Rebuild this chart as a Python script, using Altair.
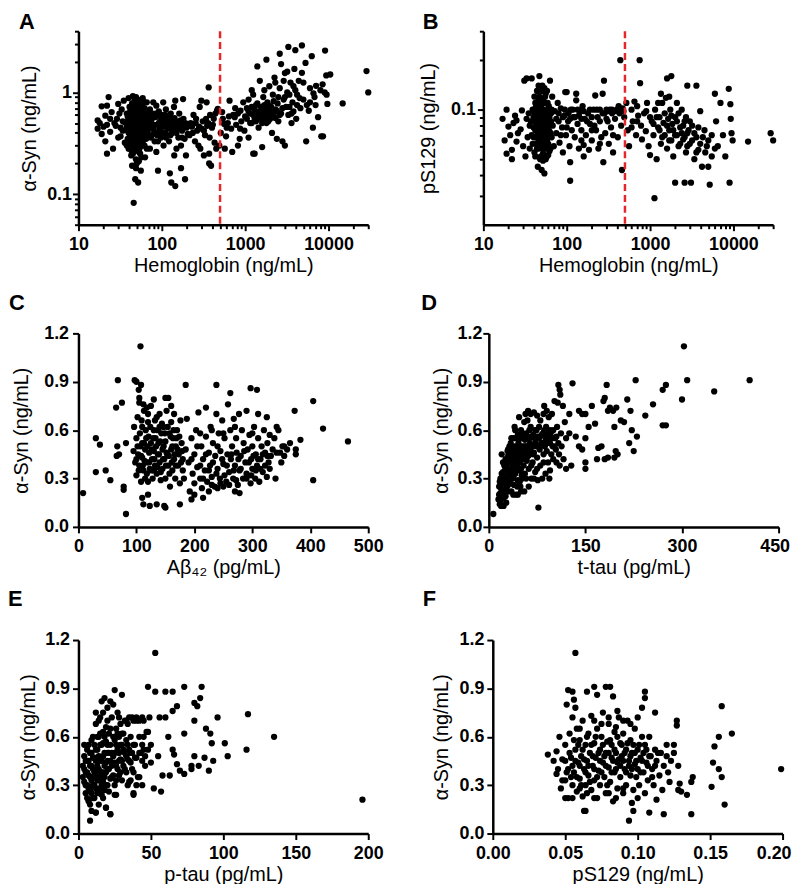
import altair as alt
import pandas as pd

FONT = "Liberation Sans, Arial, DejaVu Sans, sans-serif"
RED = "#e5262b"

# ---------------- Panel A: Hemoglobin (ng/mL) vs alpha-Syn (ng/mL) ----------------
A_MAIN = [
 (17,0.44),(17,0.53),(18,0.5),(19,0.73),(19,0.39),(20,0.46),(21,0.59),(21,0.33),(22,0.74),(22,0.25),
 (22,0.48),(23,0.9),(24,0.41),(24,0.55),(25,0.64),(26,0.28),(27,0.5),(28,0.47),(29,0.55),(30,0.77),
 (30,0.36),(31,0.62),(32,0.37),(32,0.45),(33,0.68),(34,0.52),(35,0.83),(36,0.51),(36,0.32),(34,0.42),
 (38,0.62),(38,0.45),(39,0.35),(40,0.88),(40,0.55),(40,0.28),(41,0.42),(41,0.72),(42,0.5),(42,0.33),
 (43,0.6),(43,0.24),(44,0.47),(44,0.78),(44,0.38),(45,0.92),(45,0.55),(45,0.3),(45,0.25),(46,0.43),
 (46,0.66),(46,0.36),(47,0.5),(47,0.82),(47,0.27),(47,0.4),(48,0.58),(48,0.34),(48,0.45),(48,0.7),
 (49,0.9),(49,0.52),(49,0.31),(49,0.22),(50,0.62),(50,0.42),(50,0.37),(50,0.48),(50,0.75),(51,0.28),
 (51,0.55),(51,0.85),(51,0.44),(52,0.33),(52,0.6),(52,0.5),(52,0.39),(53,0.68),(53,0.46),(53,0.26),
 (54,0.8),(54,0.41),(54,0.53),(55,0.35),(55,0.58),(55,0.3),(56,0.47),(56,0.72),(57,0.42),(57,0.62),
 (57,0.23),(58,0.52),(58,0.36),(59,0.88),(59,0.45),(60,0.6),(60,0.3),(61,0.5),(62,0.4),(62,0.7),
 (63,0.55),(63,0.23),(64,0.46),(65,0.35),(65,0.62),(66,0.28),(66,0.8),
 (46,0.082),(48,0.14),(52,0.13),(49,0.18),(50,0.2),(53,0.21),(44,0.19),(56,0.17),
 (68,0.55),(70,0.45),(72,0.28),(72,0.68),(75,0.5),(76,0.38),(78,0.62),(79,0.8),(80,0.43),(82,0.33),
 (84,0.57),(86,0.74),(86,0.26),(88,0.48),(90,0.33),(90,0.17),(92,0.65),(95,0.42),(96,0.52),(98,0.36),
 (100,0.6),(102,0.46),(104,0.8),(105,0.3),(108,0.55),(110,0.4),(112,0.68),(114,0.51),(115,0.38),(118,0.45),
 (120,0.58),(122,0.33),(125,0.46),(125,0.16),(128,0.62),(130,0.55),(130,0.13),(133,0.4),(136,0.5),(140,0.72),
 (141,0.24),(145,0.83),(145,0.12),(148,0.44),(150,0.28),(152,0.52),(158,0.36),(162,0.62),(165,0.49),(170,0.3),
 (170,0.18),(175,0.42),(180,0.86),(182,0.55),(188,0.35),(190,0.14),(195,0.24),(198,0.45),
 (205,0.39),(215,0.38),(222,0.5),(230,0.46),(240,0.6),(250,0.33),(258,0.55),(265,0.42),(275,0.3),(285,0.72),
 (290,0.28),(298,0.83),(300,0.44),(310,0.52),(320,0.24),(330,0.38),(340,0.55),(345,0.8),(350,0.47),(365,1.12),
 (370,0.25),(370,0.2),(375,0.36),(380,0.6),(390,0.19),(400,0.45),(420,0.55),(430,0.32),(450,0.28),(460,0.66),
 (470,0.69),(490,0.3),(510,0.4),(530,0.64),(560,0.49),(570,0.28),(590,0.37),(620,0.5),(650,0.83),(680,0.44),
 (700,0.26),(720,0.6),(750,0.57),(780,0.48),(820,0.3),(860,0.35),(880,0.66),(900,0.52),
 (950,0.8),(980,0.42),(1000,0.58),(1050,0.7),(1100,0.36),(1150,0.62),(1200,0.5),(1200,1.05),(1250,0.25),(1300,0.55),
 (1300,0.25),(1350,0.75),(1400,0.6),(1400,1.8),(1450,0.45),(1500,0.65),(1500,1.3),(1550,0.55),(1600,0.7),(1600,0.29),
 (1650,0.9),(1700,0.58),(1750,0.62),(1800,2.1),(1800,0.5),(1850,0.8),(1900,0.66),(1950,1.15),(2000,0.55),(2050,0.72),
 (2100,0.4),(2150,0.95),(2200,0.6),(2250,1.4),(2300,0.68),(2400,0.35),(2450,0.78),(2500,0.52),(2600,2.4),(2600,1.1),
 (2700,1.9),(2700,0.62),(2800,0.33),(2900,0.85),(3000,0.3),(3000,1.55),(3100,0.72),(3200,1.6),(3300,2.8),(3300,0.6),
 (3400,0.95),(3500,1.25),(3600,0.5),(3700,0.8),(3800,0.65),(4000,2.6),(4000,1.05),(4100,0.55),(4200,0.75),(4400,1.3),
 (4600,0.7),(4800,2.9),(4800,1.56),(5000,0.85),(5300,1.95),(5400,0.33),(5800,0.66),(6000,1.1),(6300,2.27),(6600,0.98),
 (6800,0.9),(7100,1.16),(6500,0.45),(7500,0.57),(8200,0.37),(8600,0.37),(8500,1.2),(9000,1.0),(9100,2.58),(9400,1.47),
 (9700,0.77),(10500,1.5),(14800,0.78),(28600,1.62),(30000,1.0),
]
A_DENSE = [
 (40,0.4),(40,0.62),(41,0.3),(41,0.52),(42,0.44),(42,0.66),(43,0.37),(43,0.52),(44,0.29),(44,0.57),
 (45,0.41),(45,0.48),(45,0.7),(46,0.27),(46,0.52),(46,0.59),(47,0.33),(47,0.46),(47,0.62),(48,0.38),
 (48,0.5),(48,0.28),(49,0.42),(49,0.6),(49,0.68),(50,0.3),(50,0.54),(50,0.33),(50,0.66),(51,0.36),
 (51,0.47),(51,0.65),(52,0.42),(52,0.29),(52,0.72),(53,0.38),(53,0.55),(53,0.6),(54,0.33),(54,0.47),
 (54,0.64),(55,0.43),(55,0.5),(55,0.25),(56,0.39),(56,0.55),(56,0.3),(57,0.48),(57,0.35),(57,0.68),
 (58,0.44),(58,0.58),(59,0.32),(59,0.52),(60,0.4),(60,0.68),(61,0.36),(61,0.56),(62,0.48),(62,0.3),
 (43,0.44),(44,0.66),(46,0.75),(48,0.8),(50,0.86),(52,0.78),(54,0.7),(58,0.76),(60,0.82),(64,0.55),
 (37,0.5),(38,0.3),(39,0.58),(39,0.42),(40,0.47),(41,0.6),(42,0.38),(43,0.27),(44,0.52),(45,0.35),
 (46,0.47),(47,0.55),(47,0.3),(48,0.42),(49,0.47),(49,0.36),(50,0.58),(50,0.45),(51,0.4),(51,0.6),
 (52,0.55),(52,0.35),(53,0.5),(53,0.42),(54,0.58),(54,0.28),(55,0.46),(55,0.65),(56,0.52),(57,0.38),
 (58,0.48),(59,0.4),(60,0.5),(61,0.44),(63,0.38),(64,0.62),(66,0.45),(67,0.52),(69,0.38),(70,0.5),
 (68,0.42),(70,0.6),(74,0.36),(76,0.55),(80,0.48),(83,0.4),(85,0.62),(88,0.38),(92,0.5),(94,0.44),
 (97,0.58),(100,0.4),(103,0.52),(106,0.46),(110,0.6),(112,0.36),(116,0.55),(120,0.44),(124,0.52),(127,0.38),
 (132,0.47),(138,0.42),(142,0.56),(150,0.4),(155,0.48),(160,0.44),(168,0.53),(175,0.36),(185,0.46),(192,0.5),
 (210,0.47),(235,0.4),(255,0.5),(280,0.46),(320,0.42),(360,0.5),(410,0.48),(440,0.62),(540,0.55),(600,0.45),
 (640,0.58),(760,0.7),(820,0.62),(870,0.44),
 (1050,0.55),(1100,0.65),(1150,0.5),(1200,0.72),(1250,0.6),(1300,0.68),(1350,0.52),(1400,0.78),(1450,0.62),(1500,0.56),
 (1550,0.72),(1600,0.5),(1650,0.62),(1700,0.75),(1750,0.55),(1800,0.68),(1850,0.6),(1900,0.52),(1950,0.74),(2000,0.64),
 (2100,0.58),(2200,0.82),(2300,0.56),(2400,0.66),(2500,0.9),(2600,0.6),(2800,0.7),(3000,0.9),(3200,1.0),(3400,0.72),
 (3600,0.62),(3800,1.15),(4200,0.95),(4500,0.88),(5000,1.25),(5500,0.75),(6000,0.8),(7000,0.75),(8000,1.05),(9500,0.95),
 (2300,1.25),(1700,1.05),(2900,1.3),(3900,1.7),(1250,0.95),(1100,0.85),
]

# ---------------- Panel B: Hemoglobin (ng/mL) vs pS129 (ng/mL) ----------------
B_MAIN = [
 (17,0.088),(18,0.065),(19,0.054),(19,0.1),(20,0.079),(21,0.07),(22,0.057),(22,0.05),(23,0.083),(24,0.092),
 (25,0.086),(25,0.064),(26,0.072),(28,0.076),(29,0.099),(30,0.06),(31,0.15),(32,0.052),(33,0.155),(33,0.088),
 (34,0.068),(35,0.095),(36,0.08),(36,0.058),
 (37,0.085),(38,0.155),(38,0.07),(39,0.1),(39,0.062),(40,0.09),(40,0.078),(41,0.12),(41,0.055),(42,0.095),
 (42,0.068),(43,0.083),(43,0.105),(44,0.074),(44,0.058),(45,0.13),(45,0.09),(45,0.045),(46,0.08),(46,0.065),
 (47,0.16),(47,0.1),(47,0.072),(48,0.088),(48,0.06),(48,0.115),(49,0.078),(49,0.052),(50,0.095),(50,0.07),
 (50,0.043),(51,0.083),(51,0.14),(52,0.062),(52,0.1),(52,0.049),(53,0.075),(53,0.09),(54,0.041),(54,0.11),
 (55,0.068),(55,0.085),(56,0.058),(56,0.125),(57,0.078),(58,0.052),(58,0.095),(59,0.07),(60,0.088),(60,0.062),
 (61,0.105),(62,0.074),(63,0.15),(63,0.082),(64,0.058),(65,0.095),(66,0.068),(67,0.12),(68,0.08),(70,0.06),
 (72,0.098),(75,0.072),(78,0.11),(80,0.085),(82,0.063),(85,0.102),(88,0.078),(90,0.055),(94,0.092),(96,0.128),
 (98,0.07),(100,0.128),(104,0.085),(108,0.06),(110,0.037),(110,0.048),(112,0.1),(115,0.075),(120,0.09),(125,0.068),
 (130,0.125),(130,0.114),(135,0.082),(140,0.058),(145,0.098),(150,0.075),(155,0.105),(160,0.052),(160,0.061),(165,0.088),
 (170,0.07),(180,0.095),(185,0.057),(190,0.082),(200,0.065),(210,0.1),(220,0.122),(225,0.075),(235,0.09),(240,0.058),
 (250,0.1),(260,0.068),(270,0.125),(275,0.048),(280,0.15),(285,0.095),(290,0.072),(300,0.1),(310,0.085),(320,0.062),
 (330,0.1),(340,0.078),(350,0.095),(360,0.055),(380,0.088),(400,0.1),(410,0.068),(430,0.095),(440,0.2),(450,0.08),
 (460,0.043),(470,0.102),(490,0.09),
 (520,0.11),(540,0.075),(560,0.06),(600,0.1),(620,0.085),(650,0.112),(680,0.07),(700,0.105),(720,0.092),(750,0.2),
 (760,0.145),(780,0.08),(800,0.066),(850,0.095),(890,0.074),(920,0.11),(960,0.06),(1000,0.053),(1050,0.085),(1100,0.07),
 (1130,0.029),(1150,0.1),(1200,0.05),(1250,0.078),(1300,0.09),(1350,0.062),(1400,0.11),(1450,0.083),(1500,0.07),(1550,0.118),
 (1600,0.155),(1600,0.058),(1650,0.088),(1700,0.075),(1750,0.1),(1800,0.16),(1800,0.065),(1850,0.082),(1900,0.052),(2000,0.036),
 (2000,0.09),(2100,0.07),(2200,0.06),(2300,0.078),(2400,0.1),(2500,0.066),(2600,0.036),(2600,0.085),(2700,0.055),(2800,0.14),
 (2800,0.072),(3000,0.062),(3100,0.036),(3200,0.08),(3400,0.05),(3600,0.14),(3600,0.068),(3800,0.057),(4000,0.098),(4200,0.045),
 (4500,0.075),(4800,0.06),(5000,0.045),(5200,0.035),(5500,0.052),(6000,0.125),(6200,0.085),(6500,0.06),(7000,0.11),(7500,0.07),
 (8000,0.052),(8800,0.134),(9000,0.036),(9200,0.108),(9300,0.088),(9500,0.072),(9800,0.065),(15000,0.064),(28000,0.072),(30000,0.065),
]
B_DENSE = [
 (40,0.1),(40,0.068),(41,0.085),(41,0.095),(42,0.075),(42,0.11),(43,0.062),(43,0.092),(44,0.082),(44,0.1),
 (45,0.07),(45,0.078),(45,0.112),(46,0.088),(46,0.095),(46,0.058),(47,0.082),(47,0.065),(47,0.12),(48,0.075),
 (48,0.098),(48,0.068),(49,0.09),(49,0.105),(49,0.064),(50,0.08),(50,0.112),(50,0.058),(50,0.088),(51,0.072),
 (51,0.095),(51,0.062),(52,0.085),(52,0.078),(52,0.115),(53,0.068),(53,0.1),(53,0.058),(54,0.088),(54,0.075),
 (55,0.095),(55,0.062),(55,0.12),(56,0.08),(56,0.07),(57,0.09),(57,0.1),(58,0.072),(58,0.065),(59,0.085),
 (59,0.11),(60,0.078),(60,0.098),(61,0.068),(62,0.09),(62,0.056),(63,0.1),(64,0.072),(65,0.085),(66,0.1),
 (44,0.13),(46,0.14),(50,0.13),(54,0.135),(58,0.13),(48,0.05),(52,0.054),(56,0.05),(60,0.053),(42,0.052),
 (75,0.088),(80,0.095),(85,0.07),(90,0.09),(95,0.1),(100,0.078),(105,0.095),(110,0.088),(118,0.1),(125,0.09),
 (135,0.1),(140,0.092),(150,0.088),(160,0.098),(175,0.085),(190,0.1),(200,0.09),(215,0.08),(230,0.1),(250,0.085),
 (270,0.095),(300,0.088),(320,0.098),(350,0.1),(380,0.098),(420,0.105),(450,0.1),(480,0.098),(360,0.07),(250,0.062),
 (150,0.065),(200,0.075),
 (1100,0.082),(1200,0.09),(1300,0.075),(1400,0.068),(1500,0.095),(1600,0.08),(1700,0.065),(1800,0.092),(1900,0.075),(2000,0.07),
 (2100,0.085),(2200,0.095),(2300,0.062),(2400,0.072),(2500,0.08),(2600,0.068),(2700,0.09),(2800,0.06),(2900,0.075),(3000,0.085),
 (3200,0.065),(3400,0.072),(3600,0.055),(3800,0.078),(4000,0.062),(4300,0.068),(4600,0.055),(5000,0.065),(5500,0.07),(6000,0.058),
 (900,0.098),(1000,0.09),(700,0.085),(600,0.078),(1250,0.11),(1700,0.12),(2100,0.11),(1350,0.125),
]

# ---------------- Panel C: Abeta42 (pg/mL) vs alpha-Syn (ng/mL) ----------------
C_MAIN = [
 (8,0.21),(30,0.34),(30,0.55),(37,0.51),(47,0.35),(55,0.29),(66,0.44),(67,0.5),(68,0.91),(65,0.74),
 (70,0.45),(75,0.77),(78,0.25),(78,0.23),(82,0.08),(82,0.52),(107,1.12),(97,0.91),(108,0.88),(185,0.88),
 (238,0.88),(297,0.86),(308,0.85),(262,0.83),(405,0.78),(422,0.61),(465,0.53),(405,0.29),(373,0.72),(383,0.54),
 (375,0.45),(375,0.48),(365,0.52),(355,0.5),(350,0.4),(340,0.3),(345,0.6),(342,0.62),(325,0.68),(310,0.7),
 (110,0.18),(112,0.14),(120,0.2),(123,0.13),(135,0.14),(148,0.13),(150,0.12),(175,0.14),(195,0.17),(200,0.2),
 (215,0.18),(225,0.22),(270,0.22),(278,0.21),(240,0.24),(250,0.25),
 (95,0.47),(96,0.62),(98,0.4),(100,0.55),(100,0.32),(102,0.68),(103,0.45),(105,0.38),(105,0.8),(107,0.5),
 (108,0.28),(110,0.62),(110,0.43),(112,0.35),(113,0.72),(115,0.48),(115,0.3),(117,0.55),(118,0.4),(120,0.65),
 (120,0.28),(122,0.46),(123,0.36),(125,0.75),(125,0.52),(127,0.42),(128,0.3),(130,0.6),(130,0.47),(132,0.38),
 (133,0.55),(135,0.68),(135,0.33),(137,0.45),(138,0.52),(140,0.4),(140,0.7),(142,0.29),(143,0.58),(145,0.48),
 (145,0.36),(147,0.62),(148,0.42),(150,0.53),(150,0.3),(152,0.72),(153,0.45),(155,0.38),(155,0.8),(157,0.58),
 (158,0.25),(160,0.48),(160,0.65),(162,0.35),(163,0.55),(165,0.42),(165,0.7),(167,0.3),(168,0.5),(170,0.6),
 (172,0.38),(173,0.45),(175,0.27),(176,0.66),(178,0.52),(180,0.35),(180,0.42),
 (100,0.9),(104,0.85),(105,0.77),(112,0.76),(118,0.74),(130,0.79),(150,0.8),(160,0.75),
 (182,0.3),(185,0.48),(187,0.67),(190,0.4),(192,0.22),(195,0.55),(197,0.33),(200,0.45),(200,0.27),(203,0.6),
 (205,0.37),(207,0.71),(210,0.3),(212,0.5),(213,0.24),(215,0.42),(218,0.35),(220,0.56),(220,0.74),(222,0.28),
 (225,0.46),(227,0.38),(228,0.62),(230,0.31),(232,0.52),(235,0.25),(236,0.44),(238,0.7),(240,0.36),(242,0.58),
 (244,0.3),(245,0.47),(248,0.66),(250,0.39),(252,0.55),(255,0.28),(257,0.45),(258,0.76),(260,0.34),(262,0.6),
 (263,0.42),(265,0.5),(267,0.3),(268,0.67),(270,0.38),(272,0.55),(273,0.46),(275,0.26),(277,0.7),(278,0.35),
 (280,0.44),(282,0.6),(284,0.3),(285,0.52),(288,0.4),(290,0.72),(290,0.33),(292,0.48),(295,0.57),(297,0.27),
 (298,0.42),(300,0.36),(300,0.5),(303,0.62),(305,0.3),(306,0.45),(308,0.38),(310,0.55),(312,0.28),(314,0.42),
 (316,0.5),(318,0.34),(320,0.6),(322,0.46),(325,0.31),(326,0.52),(328,0.4),(330,0.57),(332,0.44),(335,0.48),
 (338,0.55),(342,0.46),(348,0.46),(352,0.5),(355,0.44),(360,0.48),
]
C_DENSE = [
 (100,0.42),(102,0.5),(104,0.35),(106,0.58),(108,0.44),(109,0.66),(111,0.38),(113,0.52),(114,0.41),(116,0.6),
 (118,0.33),(119,0.5),(121,0.56),(122,0.4),(124,0.62),(126,0.35),(127,0.48),(129,0.55),(131,0.42),(132,0.66),
 (134,0.5),(136,0.37),(137,0.6),(139,0.45),(141,0.53),(142,0.34),(144,0.64),(146,0.42),(147,0.5),(149,0.58),
 (151,0.38),(152,0.46),(154,0.62),(156,0.44),(157,0.33),(159,0.56),(161,0.4),(162,0.5),(164,0.6),(166,0.45),
 (168,0.38),(169,0.55),(171,0.48),(174,0.56),(177,0.4),(179,0.47),(120,0.7),(140,0.62),(110,0.52),(130,0.35),
 (195,0.42),(205,0.5),(210,0.38),(215,0.3),(220,0.45),(225,0.35),(230,0.26),(232,0.4),(238,0.33),(240,0.5),
 (245,0.27),(248,0.42),(252,0.32),(256,0.38),(260,0.26),(264,0.45),(268,0.35),(272,0.29),(276,0.42),(280,0.36),
 (286,0.47),(290,0.3),(294,0.4),(298,0.32),(302,0.44),(306,0.35),(310,0.42),(314,0.36),(318,0.45),(322,0.38),
 (326,0.44),(330,0.36),(210,0.58),(230,0.6),(250,0.58),(270,0.62),(300,0.58),
]

# ---------------- Panel D: t-tau (pg/mL) vs alpha-Syn (ng/mL) ----------------
D_MAIN = [
 (7,0.08),(15,0.17),(16,0.25),(17,0.14),(18,0.3),(18,0.21),(19,0.13),(20,0.45),(20,0.27),(21,0.18),
 (22,0.34),(22,0.23),(23,0.13),(24,0.38),(24,0.28),(25,0.2),(26,0.31),(26,0.42),(27,0.15),(28,0.35),
 (28,0.25),(29,0.47),(30,0.3),(30,0.22),(31,0.4),
 (32,0.33),(32,0.5),(33,0.27),(34,0.43),(35,0.36),(35,0.22),(36,0.48),(37,0.3),(38,0.55),(38,0.39),
 (39,0.26),(40,0.45),(40,0.34),(41,0.6),(42,0.41),(42,0.2),(43,0.5),(44,0.37),(45,0.29),(45,0.57),
 (46,0.44),(47,0.68),(48,0.35),(48,0.5),(49,0.25),(50,0.42),(50,0.6),(51,0.32),(52,0.47),(53,0.55),
 (54,0.38),(55,0.22),(55,0.65),(56,0.44),(57,0.5),(58,0.3),(58,0.58),(59,0.41),(60,0.48),
 (61,0.72),(62,0.36),(63,0.55),(64,0.45),(65,0.62),(66,0.3),(67,0.5),(68,0.4),(69,0.57),(70,0.71),
 (70,0.46),(72,0.34),(73,0.52),(74,0.6),(75,0.43),(76,0.29),(77,0.12),(78,0.55),(79,0.48),(80,0.66),
 (80,0.38),(82,0.52),(83,0.3),(84,0.58),(85,0.45),(86,0.75),(87,0.5),(88,0.33),(89,0.62),(90,0.47),
 (91,0.55),(92,0.4),(93,0.68),(94,0.3),(95,0.52),(96,0.58),(97,0.45),(98,0.7),(99,0.5),(100,0.6),
 (100,0.42),(102,0.78),(103,0.55),(104,0.48),(105,0.4),(106,0.62),(107,0.77),(108,0.52),(109,0.45),(110,0.38),
 (112,0.58),(113,0.5),(115,0.75),(116,0.42),(118,0.65),(120,0.55),
 (303,1.12),(308,0.91),(405,0.91),(350,0.84),(300,0.79),(275,0.88),(270,0.85),(228,0.91),(183,0.88),(130,0.89),
 (108,0.88),(110,0.85),(111,0.82),(270,0.63),(275,0.63),(255,0.76),(243,0.69),(215,0.79),(220,0.72),(222,0.6),
 (230,0.56),(225,0.47),(218,0.52),(205,0.66),(210,0.65),(198,0.74),(193,0.72),(185,0.72),(180,0.8),(178,0.78),
 (188,0.74),(195,0.62),(197,0.47),(195,0.43),(200,0.45),(185,0.43),(180,0.42),(175,0.5),(170,0.49),(168,0.42),
 (160,0.75),(155,0.62),(165,0.64),(150,0.7),(140,0.72),(145,0.7),(150,0.55),(150,0.4),(150,0.36),(145,0.48),
 (140,0.5),(135,0.56),(125,0.58),(128,0.38),(120,0.36),(125,0.7),
]
D_DENSE = [
 (16,0.2),(17,0.28),(18,0.16),(19,0.24),(20,0.33),(20,0.19),(21,0.28),(22,0.4),(23,0.3),(23,0.18),
 (24,0.22),(25,0.35),(25,0.27),(26,0.19),(27,0.38),(27,0.3),(28,0.42),(29,0.28),(29,0.36),(30,0.26),
 (30,0.44),(31,0.34),(32,0.28),(32,0.4),(33,0.45),(33,0.35),(34,0.3),(34,0.52),(35,0.42),(36,0.33),
 (36,0.4),(37,0.46),(37,0.38),(38,0.31),(39,0.42),(39,0.5),(40,0.38),(41,0.47),(41,0.33),(42,0.55),
 (43,0.44),(43,0.38),(44,0.48),(45,0.42),(46,0.36),(46,0.52),(47,0.45),(48,0.4),(49,0.55),(49,0.46),
 (50,0.36),(51,0.5),(52,0.42),(52,0.58),(53,0.46),(54,0.5),(55,0.42),(56,0.54),(57,0.46),(58,0.5),
 (60,0.55),(61,0.44),(62,0.5),(63,0.6),(64,0.52),(65,0.47),(66,0.56),(68,0.5),(69,0.45),(71,0.55),
 (72,0.6),(74,0.5),(76,0.56),(78,0.62),(80,0.5),(82,0.57),(84,0.52),(86,0.6),(88,0.55),(90,0.52),
 (92,0.58),(95,0.6),(98,0.55),(102,0.5),(105,0.56),(60,0.66),(57,0.7),(65,0.7),(75,0.69),(85,0.7),
 (90,0.72),(30,0.48),(35,0.55),(40,0.62),(44,0.25),(48,0.28),(52,0.3),(56,0.33),(62,0.25),(66,0.38),
 (70,0.3),(75,0.36),(85,0.4),(95,0.35),(38,0.2),(45,0.2),(50,0.22),
]

# ---------------- Panel E: p-tau (pg/mL) vs alpha-Syn (ng/mL) ----------------
E_MAIN = [
 (3,0.42),(4,0.32),(4,0.48),(5,0.25),(5,0.38),(6,0.45),(6,0.3),(7,0.2),(7,0.55),(7,0.36),
 (8,0.08),(8,0.27),(8,0.42),(9,0.14),(9,0.5),(9,0.33),(10,0.22),(10,0.6),(10,0.4),
 (11,0.3),(11,0.47),(12,0.13),(12,0.68),(12,0.36),(13,0.25),(13,0.52),(13,0.42),(14,0.18),(14,0.6),
 (14,0.33),(15,0.45),(15,0.72),(15,0.28),(16,0.38),(16,0.55),(16,0.82),(17,0.22),(17,0.48),(17,0.63),
 (18,0.35),(18,0.42),(18,0.84),(19,0.16),(19,0.57),(19,0.3),(20,0.5),(20,0.7),(20,0.4),
 (21,0.26),(21,0.62),(22,0.12),(22,0.45),(22,0.55),(23,0.35),(23,0.72),(24,0.48),(24,0.8),(25,0.3),
 (25,0.58),(25,0.89),(26,0.24),(26,0.42),(26,0.65),(27,0.52),(27,0.75),(28,0.36),(28,0.6),(29,0.46),
 (29,0.68),(30,0.86),(30,0.33),(30,0.55),(31,0.42),(31,0.62),(32,0.5),(32,0.7),(33,0.38),(33,0.58),
 (34,0.46),(34,0.68),(35,0.52),(35,0.32),(36,0.6),(36,0.44),(37,0.72),(37,0.5),(38,0.25),(38,0.38),
 (39,0.55),(40,0.47),(40,0.7),(41,0.35),(42,0.6),(43,0.5),(44,0.3),(45,0.52),(46,0.42),(47,0.63),
 (196,0.21),(135,0.6),(117,0.74),(116,0.52),(103,0.48),(101,0.56),(96,0.72),(93,0.45),(90,0.39),(91,0.62),
 (92,0.56),(88,0.65),(87,0.47),(85,0.91),(84,0.84),(82,0.79),(80,0.81),(80,0.7),(83,0.42),(80,0.48),
 (78,0.42),(78,0.4),(73,0.91),(73,0.62),(73,0.37),(70,0.39),(68,0.79),(68,0.43),(65,0.88),(65,0.76),
 (65,0.52),(66,0.49),(60,0.88),(60,0.72),(62,0.6),(63,0.36),(58,0.36),(57,0.26),(55,0.48),(56,0.72),
 (53,1.12),(53,0.88),(52,0.28),(48,0.91),(49,0.72),(50,0.55),(50,0.44),(48,0.63),(45,0.7),(45,0.6),
 (42,0.35),(44,0.45),(40,0.72),(38,0.55),(38,0.24),(25,0.24),(22,0.12),(19,0.16),(12,0.13),
]
E_DENSE = [
 (3,0.35),(4,0.4),(4,0.55),(5,0.3),(5,0.45),(6,0.38),(6,0.52),(6,0.22),(7,0.28),(7,0.45),
 (8,0.35),(8,0.5),(8,0.18),(9,0.25),(9,0.42),(9,0.58),(10,0.3),(10,0.47),(10,0.35),(11,0.38),
 (11,0.55),(11,0.22),(12,0.28),(12,0.45),(12,0.52),(13,0.33),(13,0.6),(13,0.38),(14,0.4),(14,0.48),
 (14,0.26),(15,0.35),(15,0.55),(15,0.62),(16,0.3),(16,0.45),(16,0.24),(17,0.38),(17,0.56),(17,0.32),
 (18,0.5),(18,0.27),(18,0.6),(19,0.44),(19,0.38),(19,0.66),(20,0.3),(20,0.55),(20,0.45),(21,0.4),
 (21,0.5),(22,0.34),(22,0.65),(23,0.42),(23,0.5),(24,0.36),(24,0.6),(25,0.44),(25,0.5),(26,0.33),
 (26,0.55),(27,0.4),(27,0.62),(28,0.45),(28,0.5),(29,0.38),(29,0.55),(30,0.45),(30,0.62),(31,0.52),
 (32,0.4),(33,0.48),(34,0.55),(35,0.45),(36,0.5),(37,0.4),(39,0.47),(42,0.5),(44,0.55),(46,0.48),
 (48,0.52),(34,0.3),(36,0.33),(40,0.3),(12,0.75),(14,0.7),(17,0.75),(20,0.78),(22,0.82),(28,0.72),
 (33,0.7),(35,0.72),(38,0.7),(42,0.7),(44,0.72),
]

# ---------------- Panel F: pS129 (ng/mL) vs alpha-Syn (ng/mL) ----------------
F_MAIN = [
 (0.057,1.12),(0.199,0.4),(0.165,0.62),(0.158,0.79),(0.156,0.6),(0.156,0.4),(0.158,0.35),(0.153,0.54),(0.152,0.44),(0.151,0.29),
 (0.16,0.18),(0.137,0.12),(0.138,0.35),(0.137,0.32),(0.134,0.24),(0.13,0.26),(0.128,0.27),(0.127,0.7),(0.127,0.67),(0.125,0.55),
 (0.125,0.5),(0.128,0.42),(0.129,0.31),(0.12,0.55),(0.118,0.12),(0.112,0.75),(0.113,0.21),(0.108,0.13),(0.105,0.88),(0.105,0.84),
 (0.103,0.78),(0.094,0.08),(0.097,0.14),(0.096,0.19),(0.038,0.49),(0.042,0.45),(0.044,0.51),(0.044,0.37),(0.045,0.4),(0.046,0.6),
 (0.047,0.28),(0.05,0.22),(0.048,0.33),(0.052,0.89),(0.055,0.88),(0.051,0.8),(0.056,0.83),(0.057,0.78),(0.063,0.14),(0.064,0.14),
 (0.065,0.88),(0.07,0.91),(0.072,0.86),(0.078,0.91),(0.081,0.91),(0.083,0.85),(0.086,0.76),
 (0.048,0.46),(0.05,0.33),(0.05,0.55),(0.052,0.4),(0.052,0.22),(0.053,0.62),(0.054,0.47),(0.055,0.3),(0.055,0.72),(0.056,0.38),
 (0.057,0.52),(0.058,0.26),(0.058,0.65),(0.059,0.44),(0.06,0.34),(0.06,0.58),(0.061,0.48),(0.062,0.23),(0.062,0.7),(0.063,0.4),
 (0.064,0.55),(0.064,0.3),(0.065,0.45),(0.066,0.62),(0.066,0.36),(0.067,0.5),(0.068,0.27),(0.068,0.73),(0.069,0.42),(0.07,0.56),
 (0.07,0.33),(0.071,0.47),(0.072,0.65),(0.072,0.22),(0.073,0.39),(0.074,0.52),(0.074,0.3),(0.075,0.6),(0.076,0.44),(0.076,0.75),
 (0.077,0.35),(0.078,0.5),(0.078,0.25),(0.079,0.57),(0.08,0.41),(0.08,0.68),(0.081,0.32),(0.082,0.47),(0.082,0.55),(0.083,0.2),
 (0.084,0.38),(0.084,0.63),(0.085,0.5),(0.086,0.28),(0.086,0.44),(0.087,0.72),(0.088,0.35),(0.088,0.56),(0.089,0.48),(0.09,0.25),
 (0.09,0.62),(0.091,0.4),(0.092,0.52),(0.092,0.3),(0.093,0.7),(0.094,0.45),(0.095,0.36),(0.095,0.58),(0.096,0.5),(0.097,0.27),
 (0.098,0.43),(0.098,0.65),(0.099,0.35),(0.1,0.52),(0.1,0.72),(0.101,0.3),(0.102,0.47),(0.103,0.6),(0.104,0.38),(0.105,0.25),
 (0.105,0.55),(0.106,0.44),(0.107,0.33),(0.108,0.6),(0.109,0.48),(0.11,0.4),(0.111,0.3),(0.112,0.52),(0.113,0.45),(0.115,0.36),
 (0.116,0.5),(0.117,0.27),(0.118,0.42),(0.12,0.48),(0.121,0.38),(0.122,0.32),(0.123,0.45),
]
F_DENSE = [
 (0.05,0.45),(0.051,0.38),(0.053,0.5),(0.054,0.35),(0.055,0.42),(0.056,0.58),(0.057,0.45),(0.058,0.35),(0.059,0.55),(0.06,0.42),
 (0.061,0.3),(0.062,0.52),(0.063,0.46),(0.064,0.38),(0.065,0.6),(0.066,0.42),(0.067,0.32),(0.068,0.55),(0.069,0.48),(0.07,0.4),
 (0.071,0.6),(0.072,0.35),(0.073,0.5),(0.074,0.45),(0.075,0.38),(0.076,0.55),(0.077,0.48),(0.078,0.42),(0.079,0.3),(0.08,0.5),
 (0.081,0.58),(0.082,0.38),(0.083,0.45),(0.084,0.52),(0.085,0.4),(0.086,0.6),(0.087,0.46),(0.088,0.42),(0.089,0.55),(0.09,0.45),
 (0.091,0.5),(0.092,0.38),(0.093,0.56),(0.094,0.42),(0.095,0.48),(0.096,0.4),(0.097,0.55),(0.098,0.5),(0.099,0.45),(0.1,0.4),
 (0.101,0.55),(0.102,0.38),(0.103,0.45),(0.104,0.5),(0.106,0.52),(0.107,0.42),(0.108,0.48),(0.11,0.35),(0.112,0.42),(0.114,0.5),
 (0.07,0.7),(0.075,0.68),(0.08,0.72),(0.085,0.66),(0.09,0.7),(0.095,0.68),(0.06,0.65),(0.065,0.25),(0.07,0.22),(0.08,0.25),
 (0.085,0.22),(0.09,0.28),(0.1,0.22),(0.06,0.28),(0.055,0.22),
]

HB_MAJOR = [10, 100, 1000, 10000]
HB_MINOR = [20, 30, 40, 50, 60, 70, 80, 90, 200, 300, 400, 500, 600, 700, 800, 900,
            2000, 3000, 4000, 5000, 6000, 7000, 8000, 9000, 20000, 30000]
SYN_LOG_MAJOR = [0.1, 1]
SYN_LOG_MINOR = [0.05, 0.06, 0.07, 0.08, 0.09, 0.2, 0.3, 0.4, 0.5, 0.6, 0.7, 0.8, 0.9, 2, 3, 4]
PS_LOG_MAJOR = [0.1]
PS_LOG_MINOR = [0.03, 0.04, 0.05, 0.06, 0.07, 0.08, 0.09, 0.2, 0.3]
SYN_TICKS = [0, 0.3, 0.6, 0.9, 1.2]
CUTOFF = [500]

W, H = 292, 195
LABEL_W = 25          # width of a y tick label such as "0.1" / "1.2"
XLP, XTP = 5, 2       # x-axis label / title padding (linear axes)
LOG_XTP = 2           # x-axis title padding (log axes)
X_EXT = 6 + XLP + 18  # fixed x-axis extent (tick + padding + label height)


def log_axis(title, major, minor, lp, tp, ext):
    # all ticks are 6 px long; minor ticks are dashed so only their inner part shows
    arr = "[" + ",".join(str(v) for v in major) + "]"
    test = f"indexof({arr}, datum.value) >= 0"
    return alt.Axis(
        title=title, values=sorted(major + minor),
        labelExpr=f"{test} ? '' + datum.value : ''",
        tickSize=6,
        tickDash={"condition": {"test": test, "value": []}, "value": [4, 8]},
        labelPadding=lp, titlePadding=tp, minExtent=ext, maxExtent=ext,
    )


def lin_axis(title, values, fmt, lp, tp, ext, last_shift=0):
    kw = {}
    if last_shift:
        kw["labelOffset"] = {"condition": {"test": f"datum.value == {values[-1]}", "value": last_shift}, "value": 0}
    return alt.Axis(title=title, values=values, format=fmt, tickSize=6,
                    labelPadding=lp, titlePadding=tp, minExtent=ext, maxExtent=ext, **kw)


def y_log(title, major, minor, lp, tp):
    return log_axis(title, major, minor, lp, tp, 6 + lp + LABEL_W)


def y_lin(lp, tp):
    return lin_axis("α-Syn (ng/mL)", SYN_TICKS, ".1f", lp, tp, 6 + lp + LABEL_W)


def panel(pts, xscale, yscale, xaxis, yaxis, letter, offset, dx, cutoff=False):
    data = pd.DataFrame(pts, columns=["x", "y"])
    pts_layer = alt.Chart(data).mark_circle(size=40, color="black", opacity=1).encode(
        x=alt.X("x:Q", scale=xscale, axis=xaxis),
        y=alt.Y("y:Q", scale=yscale, axis=yaxis),
    )
    layers = [pts_layer]
    if cutoff:
        rule = alt.Chart(pd.DataFrame({"x": CUTOFF})).mark_rule(
            color=RED, strokeWidth=2.5, strokeDash=[7, 4]
        ).encode(x="x:Q")
        layers.append(rule)
    return alt.layer(*layers).properties(
        width=W, height=H,
        title=alt.TitleParams(letter, anchor="start", frame="group", fontSize=22,
                              fontWeight="bold", font=FONT, color="black",
                              offset=offset, dx=dx),
    )


hb_scale = alt.Scale(type="log", domain=[10, 30000], nice=False)
syn_lin = alt.Scale(domain=[0, 1.2], nice=False)

pA = panel(A_MAIN + A_DENSE, hb_scale, alt.Scale(type="log", domain=[0.05, 4], nice=False),
           log_axis("Hemoglobin (ng/mL)", HB_MAJOR, HB_MINOR, XLP, LOG_XTP, X_EXT),
           y_log("α-Syn (ng/mL)", SYN_LOG_MAJOR, SYN_LOG_MINOR, 1, 7),
           "A", -12, -60, cutoff=True)
pB = panel(B_MAIN + B_DENSE, hb_scale, alt.Scale(type="log", domain=[0.02, 0.3], nice=False),
           log_axis("Hemoglobin (ng/mL)", HB_MAJOR, HB_MINOR, XLP, LOG_XTP, X_EXT),
           y_log("pS129 (ng/mL)", PS_LOG_MAJOR, PS_LOG_MINOR, 2, 12.5),
           "B", -12, -61, cutoff=True)
pC = panel(C_MAIN + C_DENSE, alt.Scale(domain=[0, 500], nice=False), syn_lin,
           lin_axis("Aβ₄₂ (pg/mL)", [0, 100, 200, 300, 400, 500], "d", XLP, XTP, X_EXT),
           y_lin(4, 12.5), "C", 9.5, -70)
pD = panel(D_MAIN + D_DENSE, alt.Scale(domain=[0, 450], nice=False), syn_lin,
           lin_axis("t-tau (pg/mL)", [0, 150, 300, 450], "d", XLP, XTP, X_EXT, last_shift=-4),
           y_lin(1, 5.5), "D", 9.5, -68)
pE = panel(E_MAIN + E_DENSE, alt.Scale(domain=[0, 200], nice=False), syn_lin,
           lin_axis("p-tau (pg/mL)", [0, 50, 100, 150, 200], "d", XLP, XTP, X_EXT),
           y_lin(3, 6.5), "E", 20.5, -71)
pF = panel(F_MAIN + F_DENSE, alt.Scale(domain=[0, 0.2], nice=False), syn_lin,
           lin_axis("pS129 (ng/mL)", [0, 0.05, 0.1, 0.15, 0.2], ".2f", XLP, XTP, X_EXT, last_shift=-9),
           y_lin(3, 7.5), "F", 20.5, -70.5)

row1 = alt.hconcat(pA, pB, spacing=46)
row2 = alt.hconcat(pC, pD, spacing=37.5)
row3 = alt.hconcat(pE, pF, spacing=38.5)

# rows are stacked without column alignment so each row keeps its own left offset
top2 = alt.concat(row1, row2, columns=1, spacing=16.5, align="none")
chart = alt.concat(top2, row3, columns=1, spacing=9.5, align="none").properties(
    padding=0
).configure(padding=0).configure_view(stroke=None).configure_axis(
    domainColor="black", domainWidth=2.5, tickColor="black", tickWidth=2,
    labelFont=FONT, labelFontSize=18, labelFontWeight="bold", labelColor="black",
    titleFont=FONT, titleFontSize=20, titleFontWeight="normal", titleColor="black",
    grid=False, labelFlush=False, labelOverlap=False, labelBound=False,
)

chart.save("out.html", embed_options={"renderer": "svg", "actions": False})
